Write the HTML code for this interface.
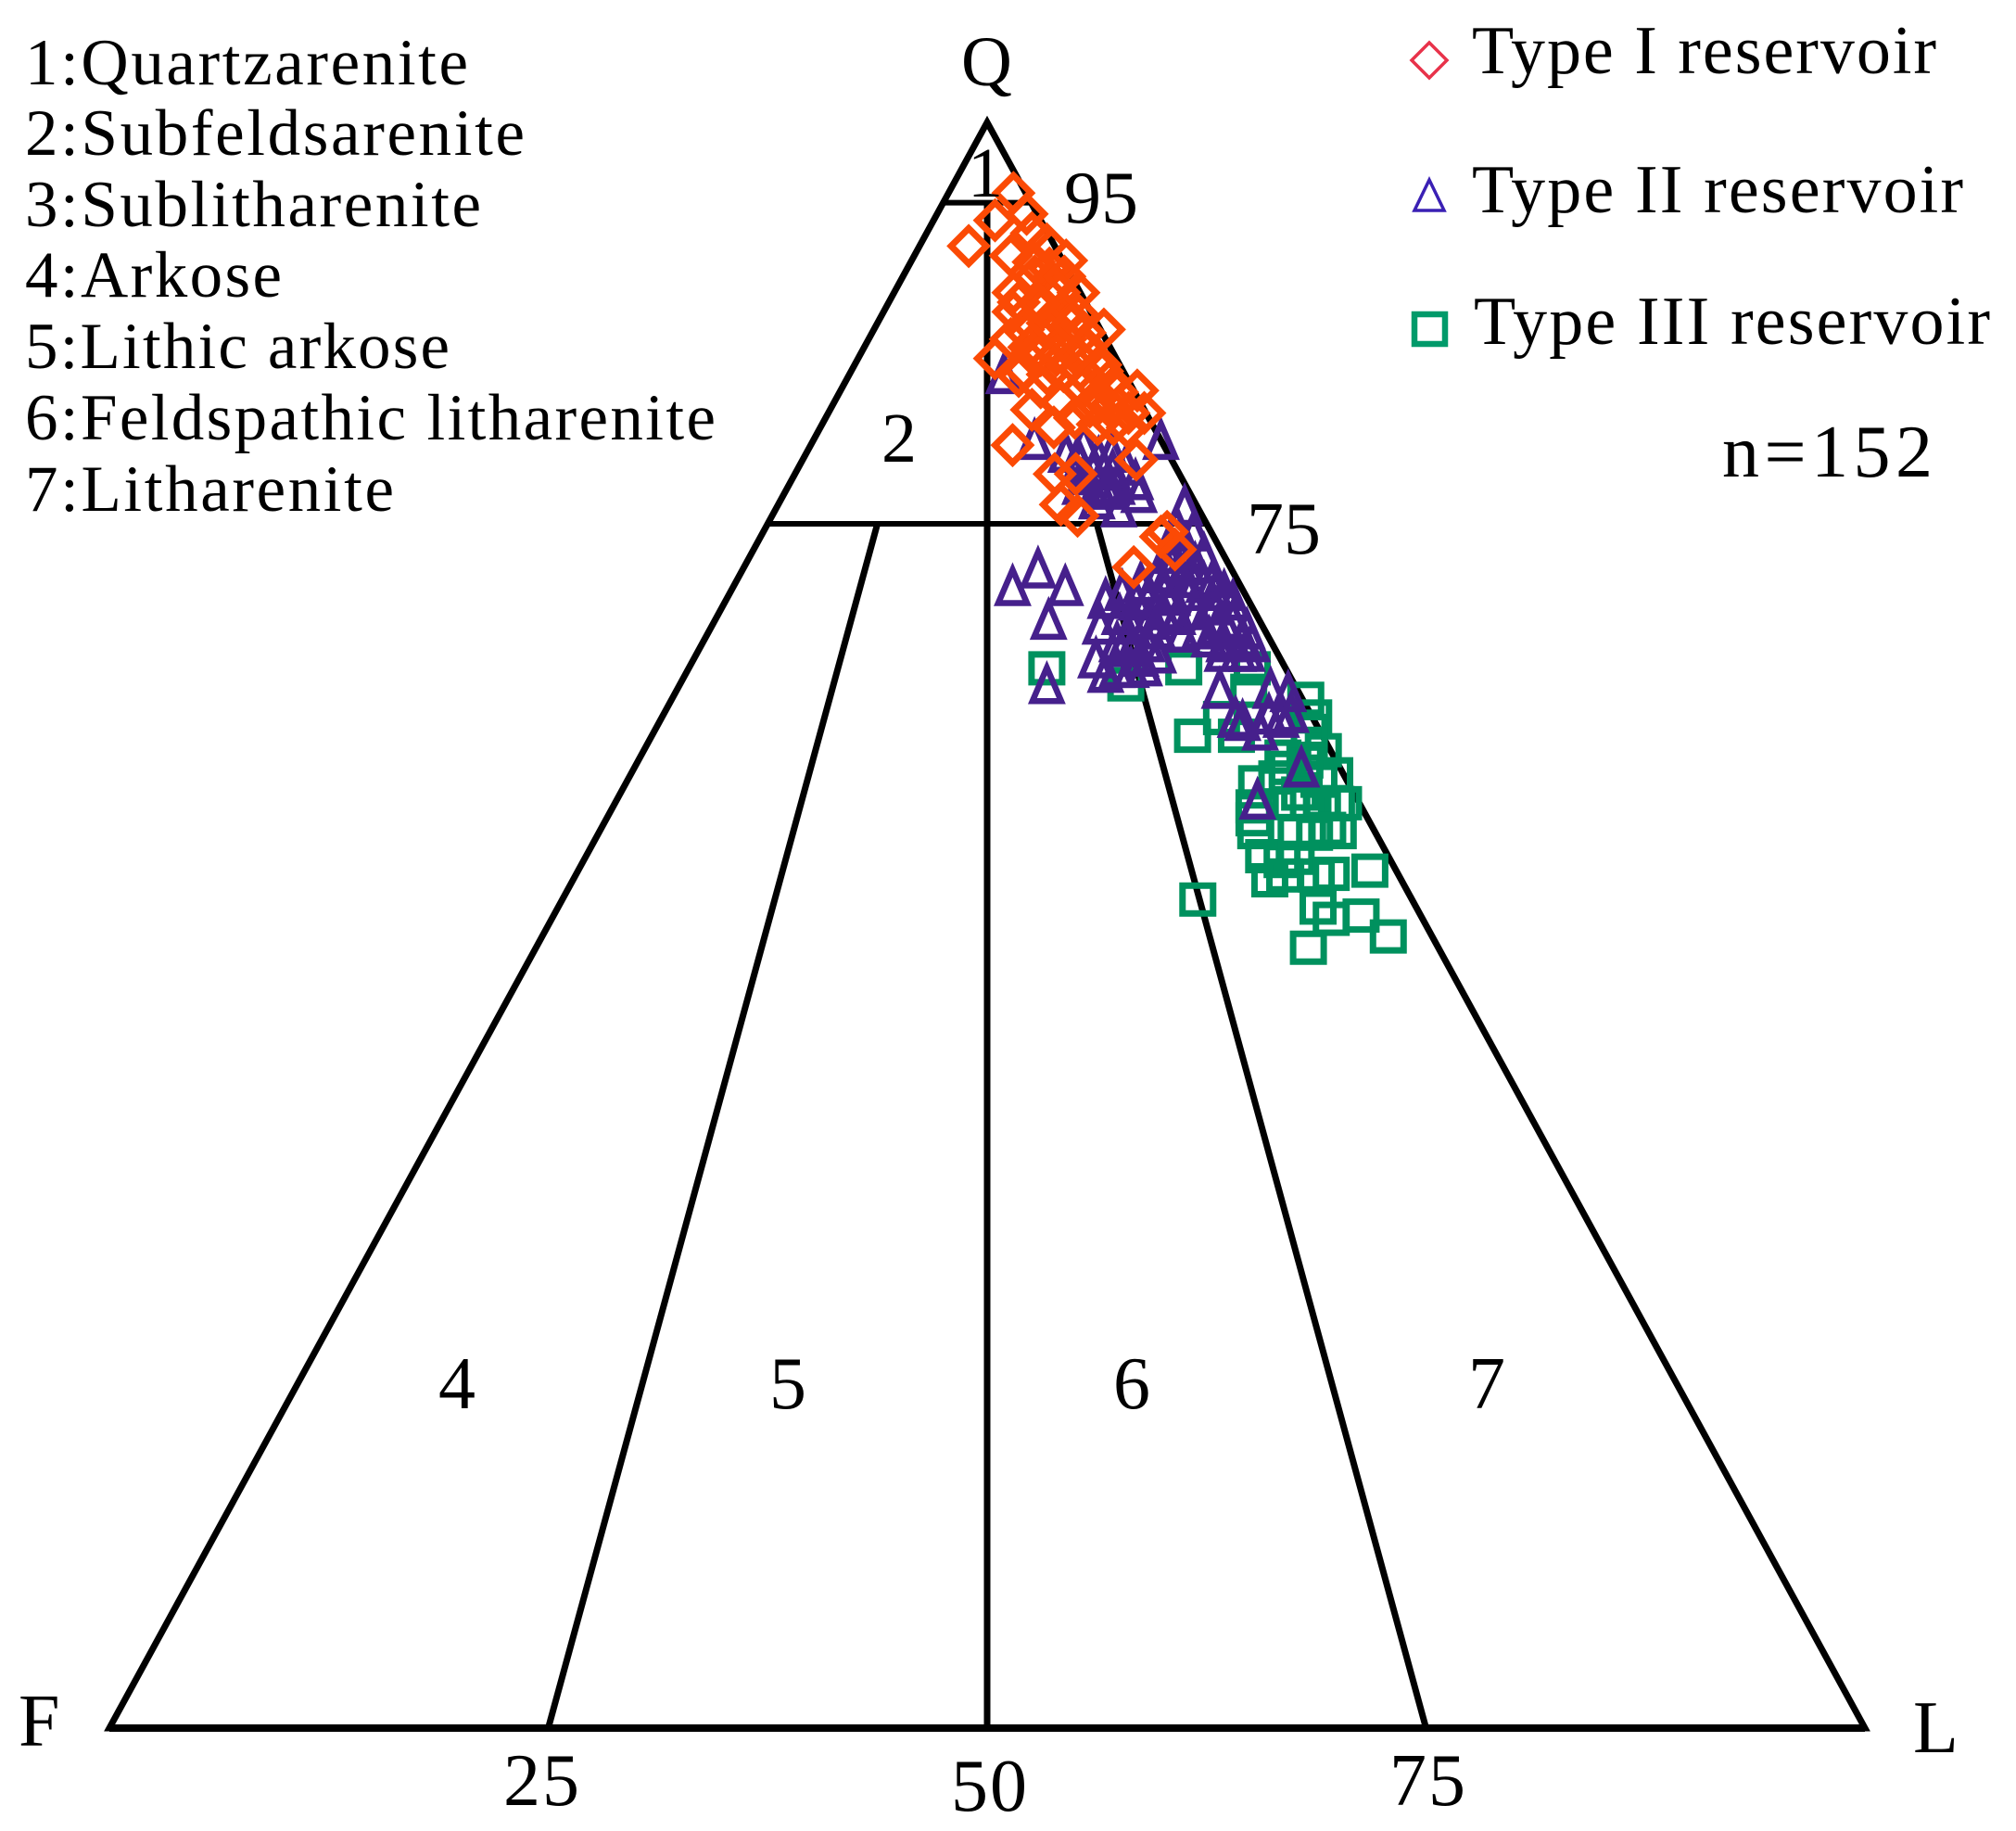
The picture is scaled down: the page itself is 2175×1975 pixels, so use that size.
<!DOCTYPE html>
<html lang="en">
<head>
<meta charset="utf-8">
<title>QFL ternary diagram of reservoir sandstones</title>
<style>
  html, body { margin: 0; padding: 0; background: #fff; }
  svg { display: block; }
  text { font-family: "Liberation Serif", "Times New Roman", serif; fill: #000; }
</style>
</head>
<body>
<svg id="chart" xmlns="http://www.w3.org/2000/svg" width="2175" height="1975" viewBox="0 0 2175 1975">
  <rect x="0" y="0" width="2175" height="1975" fill="#fff"/>
  <g id="frame"></g>
  <g id="series-3"></g>
  <g id="series-2"></g>
  <g id="series-1"></g>

  <g font-size="71">
    <text x="27" y="91" textLength="478" lengthAdjust="spacing">1:Quartzarenite</text>
    <text x="27" y="167" textLength="539" lengthAdjust="spacing">2:Subfeldsarenite</text>
    <text x="27" y="244" textLength="492" lengthAdjust="spacing">3:Sublitharenite</text>
    <text x="27" y="320" textLength="277" lengthAdjust="spacing">4:Arkose</text>
    <text x="27" y="397" textLength="458" lengthAdjust="spacing">5:Lithic arkose</text>
    <text x="27" y="474" textLength="745" lengthAdjust="spacing">6:Feldspathic litharenite</text>
    <text x="27" y="551" textLength="398" lengthAdjust="spacing">7:Litharenite</text>
  </g>

  <g font-size="74">
    <g>
      <polygon points="1542,46 1561,65 1542,84 1523,65" fill="none" stroke="#e8324a" stroke-width="3.5"/>
      <text x="1588" y="79" textLength="501" lengthAdjust="spacing">Type I reservoir</text>
    </g>
    <g>
      <polygon points="1542,194 1558,227 1526,227" fill="none" stroke="#3a20b4" stroke-width="3.5"/>
      <text x="1588" y="229" textLength="530" lengthAdjust="spacing">Type II reservoir</text>
    </g>
    <g>
      <rect x="1526" y="339" width="33" height="32" fill="none" stroke="#009a6a" stroke-width="6.5"/>
      <text x="1590" y="371" textLength="557" lengthAdjust="spacing">Type III reservoir</text>
    </g>
  </g>
  <text x="1858" y="514" font-size="80" textLength="227" lengthAdjust="spacing">n=152</text>

  <text x="1037" y="92" font-size="76">Q</text>
  <text x="20" y="1883" font-size="80">F</text>
  <text x="2064" y="1890" font-size="80">L</text>

  <text x="1148" y="240" font-size="80" textLength="80" lengthAdjust="spacing">95</text>
  <text x="1345" y="597" font-size="80" textLength="80" lengthAdjust="spacing">75</text>
  <text x="543" y="1947" font-size="80" textLength="82" lengthAdjust="spacing">25</text>
  <text x="1026" y="1953" font-size="80" textLength="82" lengthAdjust="spacing">50</text>
  <text x="1499" y="1947" font-size="80" textLength="82" lengthAdjust="spacing">75</text>

  <text x="1063" y="212" font-size="76" text-anchor="middle">1</text>
  <text x="970" y="498" font-size="76" text-anchor="middle">2</text>
  <text x="493" y="1519" font-size="80" text-anchor="middle">4</text>
  <text x="850" y="1519" font-size="80" text-anchor="middle">5</text>
  <text x="1221" y="1519" font-size="80" text-anchor="middle">6</text>
  <text x="1604" y="1519" font-size="80" text-anchor="middle">7</text>
</svg>

<script>
// Values: Q and L percentages (F = 100 - Q - L).
const typeIQ = [92.3,95.6,93.9,94.3,93.1,91.7,91.4,90.9,89.4,90.4,89.4,89.4,88.8,88.5,88.2,87.1,88.0,86.5,85.3,86.4,87.1,86.0,86.5,85.8,84.9,84.5,85.5,84.5,84.2,83.5,83.9,83.3,83.4,82.6,82.1,82.3,81.9,81.9,81.6,81.0,81.2,81.0,79.9,79.0,78.1,78.1,76.2,75.5,74.5,73.4,72.3,74.2,88.1,87.5,86.9,85.5,84.6,84.3,84.0,82.9,83.2,84.6,87.4,89.8,82.3,81.2,88.7,90.4,92.4,91.3,85.5];
const typeIL = [2.8,3.7,3.5,5.1,6.0,5.5,8.8,8.1,6.8,7.5,9.4,10.5,7.4,9.0,7.4,13.1,11.2,8.1,7.8,10.1,8.5,9.4,11.2,12.7,14.0,14.3,10.3,12.1,9.7,11.3,15.0,16.9,13.7,12.9,11.5,15.8,17.1,18.0,14.2,13.3,15.7,17.5,11.5,19.0,14.8,16.0,16.1,17.4,23.0,24.0,22.2,22.8,10.4,9.7,12.1,11.2,13.0,11.3,13.8,14.9,15.8,9.8,11.1,8.8,14.7,16.6,8.6,9.2,7.2,7.0,12.3];

const typeIIQ = [71.1,72.2,71.1,69.0,65.0,70.3,68.7,66.6,65.7,70.8,70.2,70.5,69.3,68.7,69.0,70.8,67.6,67.3,67.6,68.4,66.0,66.0,66.1,66.9,71.9,76.1,74.8,74.5,73.4,73.1,72.4,70.5,70.8,71.3,69.3,69.6,69.9,70.8,68.2,68.4,68.6,69.0,67.9,67.6,67.0,67.0,67.0,64.7,64.7,64.5,62.7,62.1,62.9,59.8,57.8,62.9,63.1,63.2,84.3,80.2,80.2,80.0,79.1,79.4,78.8,78.3,78.3,78.6,79.4,77.4,77.4,77.4,77.7,76.0,76.5,76.9,71.6,70.2,68.4,73.1,71.9,72.5,70.8,71.6,69.6,71.3,67.9,66.7,67.9,68.4,72.5,67.6,78.3,78.0,77.1];
const typeIIL = [15.9,16.8,18.9,19.0,20.9,21.6,22.1,22.9,23.9,22.3,23.4,24.0,22.9,23.9,24.7,24.7,23.6,24.6,25.3,25.5,24.4,25.2,25.9,26.3,24.4,23.2,23.4,24.5,24.7,25.8,25.2,25.3,26.2,26.7,26.2,27.1,28.0,28.1,27.0,27.9,28.8,29.5,30.6,29.7,29.9,30.8,31.3,30.9,33.8,34.9,33.2,34.5,35.3,38.0,36.5,32.7,34.5,35.7,8.8,12.6,19.8,15.5,16.8,17.4,15.9,16.9,18.0,18.6,14.8,16.6,17.6,18.7,19.6,19.5,18.0,20.2,27.1,28.9,30.6,24.0,23.8,25.6,27.6,25.3,25.2,23.1,24.0,25.4,28.7,29.5,24.3,31.3,17.5,16.6,18.3];

const typeIIIQ = [66.0,65.0,66.0,61.8,51.6,64.1,63.0,48.6,49.3,50.6,50.4,51.1,53.4,58.9,57.4,57.6,57.6,57.6,57.6,57.6,55.8,56.6,55.8,55.7,55.8,56.0,54.3,54.0,54.2,52.8,53.1,53.1,53.2,61.3,60.9,59.8,60.2,59.0,60.5,59.4,58.2,59.2,62.1,62.9,61.8,66.0,64.6];
const typeIIIL = [20.4,25.4,28.2,30.8,36.2,36.1,37.1,44.0,48.2,46.0,44.4,43.3,45.1,35.9,36.5,38.5,39.5,40.3,41.1,41.5,37.4,36.9,39.7,40.8,42.1,41.4,38.6,39.8,40.5,39.7,40.4,42.2,43.0,37.7,38.7,37.2,38.0,39.4,36.6,40.1,38.7,36.9,37.3,31.9,33.3,32.1,32.6];

const qBoundaries = [95, 75];
const lithicDividers = [25, 75];

const SVG_NS = 'http://www.w3.org/2000/svg';
const BASE_Y = 1864;
const CENTER_X = 1065;
const Q_UNIT = 17.32;
const LF_UNIT = 9.47;

function yOf(q) { return BASE_Y - q * Q_UNIT; }
function xOf(q, l) { const f = 100 - q - l; return CENTER_X + (l - f) * LF_UNIT; }

const frame = document.getElementById('frame');

function drawLine(parent, q1, l1, q2, l2, width) {
  const el = document.createElementNS(SVG_NS, 'line');
  el.setAttribute('x1', xOf(q1, l1));
  el.setAttribute('y1', yOf(q1));
  el.setAttribute('x2', xOf(q2, l2));
  el.setAttribute('y2', yOf(q2));
  el.setAttribute('stroke', '#000');
  el.setAttribute('stroke-width', width);
  parent.appendChild(el);
  return el;
}

const outline = document.createElementNS(SVG_NS, 'polygon');
outline.setAttribute('points', [[0, 0], [0, 100], [100, 0]].map(function (p) { return xOf(p[0], p[1]) + ',' + yOf(p[0]); }).join(' '));
outline.setAttribute('fill', 'none');
outline.setAttribute('stroke', '#000');
outline.setAttribute('stroke-width', '7');
outline.setAttribute('stroke-linejoin', 'miter');
outline.setAttribute('stroke-miterlimit', '6');


frame.appendChild(outline);

const baseLine = drawLine(frame, 0, 0, 0, 100, 8);



qBoundaries.forEach(function (q) {
  const rest = 100 - q;
  const el = drawLine(frame, q, 0, q, rest, 6);
  
  
});

const axisLine = drawLine(frame, qBoundaries[0], (100 - qBoundaries[0]) / 2, 0, 50, 7);



lithicDividers.forEach(function (share) {
  const q = qBoundaries[1];
  const el = drawLine(frame, q, (100 - q) * share / 100, 0, share, 7);
  
  
});

function diamondMark(q, l) {
  const x = xOf(q, l), y = yOf(q), r = 19;
  const el = document.createElementNS(SVG_NS, 'polygon');
  el.setAttribute('points', x + ',' + (y - r) + ' ' + (x + r) + ',' + y + ' ' + x + ',' + (y + r) + ' ' + (x - r) + ',' + y);
  el.setAttribute('fill', 'none');
  el.setAttribute('stroke', '#fb4a05');
  el.setAttribute('stroke-width', '7');
  return el;
}

function triangleMark(q, l) {
  const x = xOf(q, l), y = yOf(q);
  const el = document.createElementNS(SVG_NS, 'polygon');
  el.setAttribute('points', x + ',' + (y - 18) + ' ' + (x + 15.5) + ',' + (y + 18) + ' ' + (x - 15.5) + ',' + (y + 18));
  el.setAttribute('fill', 'none');
  el.setAttribute('stroke', '#46208c');
  el.setAttribute('stroke-width', '6.5');
  return el;
}

function squareMark(q, l) {
  const x = xOf(q, l), y = yOf(q);
  const el = document.createElementNS(SVG_NS, 'rect');
  el.setAttribute('x', x - 16.5);
  el.setAttribute('y', y - 15);
  el.setAttribute('width', 33);
  el.setAttribute('height', 30);
  el.setAttribute('fill', 'none');
  el.setAttribute('stroke', '#00915e');
  el.setAttribute('stroke-width', '7');
  return el;
}

const groupIII = document.getElementById('series-3');
typeIIIQ.forEach(function (q, i) {
  const el = squareMark(q, typeIIIL[i]);
  
  
  groupIII.appendChild(el);
});

const groupII = document.getElementById('series-2');
typeIIQ.forEach(function (q, i) {
  const el = triangleMark(q, typeIIL[i]);
  
  
  groupII.appendChild(el);
});

const groupI = document.getElementById('series-1');
typeIQ.forEach(function (q, i) {
  const el = diamondMark(q, typeIL[i]);
  
  
  groupI.appendChild(el);
});
</script>
</body>
</html>
